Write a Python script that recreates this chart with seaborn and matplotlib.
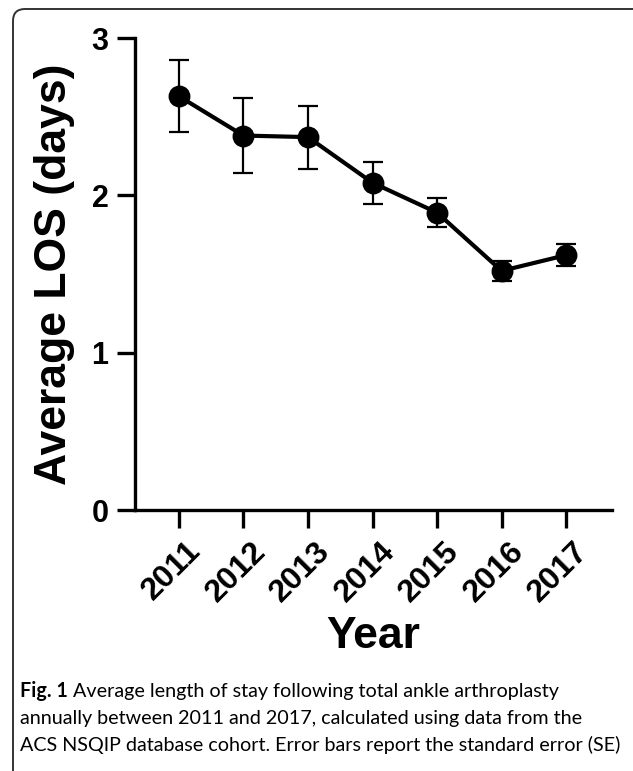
import seaborn as sns
import pandas as pd
import numpy as np
import matplotlib.pyplot as plt
from matplotlib.patches import FancyBboxPatch
from matplotlib.transforms import IdentityTransform, ScaledTranslation

years = ['2011', '2012', '2013', '2014', '2015', '2016', '2017']
avg_los = [2.63, 2.38, 2.37, 2.08, 1.89, 1.52, 1.62]
se_los = [0.23, 0.24, 0.20, 0.135, 0.09, 0.065, 0.07]
y_ticks = [0, 1, 2, 3]

caption_bold = 'Fig. 1'
caption_lines = ['Average length of stay following total ankle arthroplasty',
                 'annually between 2011 and 2017, calculated using data from the',
                 'ACS NSQIP database cohort. Error bars report the standard error (SE)']

sns.set_style('ticks')
plt.rcParams['font.family'] = ['Liberation Sans', 'DejaVu Sans']
plt.rcParams['text.color'] = 'black'
plt.rcParams['axes.labelcolor'] = 'black'
plt.rcParams['xtick.color'] = 'black'
plt.rcParams['ytick.color'] = 'black'
plt.rcParams['axes.edgecolor'] = 'black'

fig = plt.figure(figsize=(6.33, 7.71), dpi=100)
ax = fig.add_axes([135/633, 1 - 510/771, (612 - 135)/633, (510 - 38)/771])

df = pd.DataFrame({'Year': years, 'LOS': avg_los, 'SE': se_los})
sns.pointplot(data=df, x='Year', y='LOS', color='black', errorbar=None,
              markers='o', markersize=13.5, linewidth=3, ax=ax)
ax.errorbar(np.arange(len(years)), df['LOS'], yerr=df['SE'], fmt='none',
            ecolor='black', elinewidth=1.6, capsize=7, capthick=1.6, zorder=1)

ax.set_xlim(-0.68, 6.71)
ax.set_ylim(0, 3)
ax.set_yticks(y_ticks)
sns.despine(ax=ax)
for s in ['left', 'bottom']:
    ax.spines[s].set_linewidth(2.4)
    ax.spines[s].set_color('black')
ax.tick_params(axis='both', length=13, width=2.4, direction='out', colors='black')
ax.tick_params(axis='y', labelsize=22, pad=6)
ax.tick_params(axis='x', labelsize=23, pad=8)
for lab in ax.get_yticklabels():
    lab.set_fontweight('bold')
shift = ScaledTranslation(7/100, 3/100, fig.dpi_scale_trans)
for lab in ax.get_xticklabels():
    lab.set_fontweight('bold')
    lab.set_rotation(45)
    lab.set_ha('right')
    lab.set_va('top')
    lab.set_rotation_mode('anchor')
    lab.set_transform(lab.get_transform() + shift)

ax.set_ylabel('Average LOS (days)', fontsize=32, fontweight='bold', labelpad=12, color='black')
ax.set_xlabel('Year', fontsize=32, fontweight='bold', labelpad=6, color='black')

# rounded frame around the figure
frame = FancyBboxPatch((13, -20), 640, 771 - 9 + 20, boxstyle='round,pad=0,rounding_size=12',
                       transform=IdentityTransform(), fill=False, edgecolor='#333333', linewidth=1.4)
fig.add_artist(frame)

# caption
cap_font = ['Lato', 'DejaVu Sans']
cap_size = 14.2
y0 = 1 - 697/771
step = 27/771
t = fig.text(20/633, y0, caption_bold, fontsize=cap_size, fontweight='bold', family=cap_font, va='baseline')
fig.canvas.draw()
bb = t.get_window_extent(renderer=fig.canvas.get_renderer())
fig.text(bb.x1/633 + 5/633, y0, caption_lines[0], fontsize=cap_size, family=cap_font, va='baseline')
for i, line in enumerate(caption_lines[1:]):
    fig.text(20/633, y0 - step*(i + 1), line, fontsize=cap_size, family=cap_font, va='baseline')

fig.savefig('out.png', dpi=100)
